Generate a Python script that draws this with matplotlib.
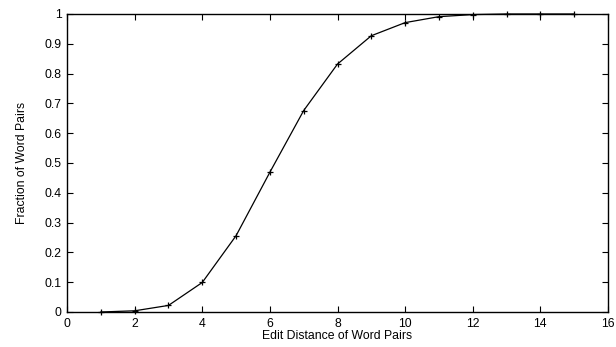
import matplotlib
matplotlib.use('Agg')
import matplotlib.pyplot as plt

# edit distance vs cumulative fraction of word pairs
edit_distance = [1, 2, 3, 4, 5, 6, 7, 8, 9, 10, 11, 12, 13, 14, 15]
fraction = [0.0, 0.004, 0.022, 0.099, 0.256, 0.469, 0.676, 0.832, 0.927,
            0.971, 0.991, 0.998, 1.0, 1.0, 1.0]

x_ticks = [0, 2, 4, 6, 8, 10, 12, 14, 16]
y_ticks = [0, 0.1, 0.2, 0.3, 0.4, 0.5, 0.6, 0.7, 0.8, 0.9, 1]
y_tick_labels = ['0', '0.1', '0.2', '0.3', '0.4', '0.5', '0.6', '0.7', '0.8', '0.9', '1']

plt.rcParams['font.family'] = ['Liberation Sans', 'DejaVu Sans']
plt.rcParams['font.size'] = 8.8

fig = plt.figure(figsize=(6.16, 3.47), dpi=100)
ax = fig.add_axes([0.1088, 0.1009, 0.8782, 0.8588])

ax.plot(edit_distance, fraction, color='black', linewidth=0.9,
        marker='+', markersize=5, markeredgewidth=0.9, clip_on=False)

ax.set_xlim(0, 16)
ax.set_ylim(0, 1)
ax.set_xticks(x_ticks)
ax.set_yticks(y_ticks)
ax.set_yticklabels(y_tick_labels)
ax.tick_params(direction='in', top=True, right=True, length=4, width=0.8, pad=4)
for s in ax.spines.values():
    s.set_linewidth(1.0)

ax.set_xlabel('Edit Distance of Word Pairs', labelpad=0)
ax.set_ylabel('Fraction of Word Pairs', labelpad=12)

fig.savefig('out.png', dpi=100)
